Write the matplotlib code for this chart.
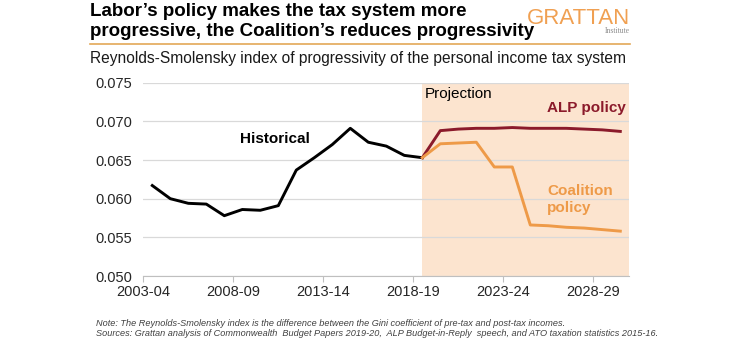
import matplotlib
matplotlib.use('Agg')
import matplotlib.pyplot as plt

plt.rcParams['font.family'] = ['Liberation Sans', 'DejaVu Sans']

W, H = 754, 341

years = ['2003-04', '2004-05', '2005-06', '2006-07', '2007-08', '2008-09', '2009-10',
         '2010-11', '2011-12', '2012-13', '2013-14', '2014-15', '2015-16', '2016-17',
         '2017-18', '2018-19', '2019-20', '2020-21', '2021-22', '2022-23', '2023-24',
         '2024-25', '2025-26', '2026-27', '2027-28', '2028-29', '2029-30']
historical = [0.0617, 0.0600, 0.0594, 0.0593, 0.0578, 0.0586, 0.0585, 0.0591,
              0.0637, 0.0653, 0.0670, 0.0691, 0.0673, 0.0668, 0.0656, 0.0653]
alp = [0.0653, 0.0688, 0.0690, 0.0691, 0.0691, 0.0692, 0.0691, 0.0691,
       0.0691, 0.0690, 0.0689, 0.0687]
coalition = [0.0653, 0.0671, 0.0672, 0.0673, 0.0641, 0.0641, 0.0566, 0.0565,
             0.0563, 0.0562, 0.0560, 0.0558]

n_hist = len(historical)
x_hist = list(range(n_hist))
x_proj = list(range(n_hist - 1, n_hist - 1 + len(alp)))

ALP_COL = '#8B1A2B'
COAL_COL = '#EE9A48'
SHADE = '#FCE4CF'
GRID = '#D9D9D9'


def fx(px):
    return px / W


def fy(py):
    return 1 - py / H


fig = plt.figure(figsize=(W / 100, H / 100), dpi=100)
ax = fig.add_axes([fx(143.3), fy(276), (629.3 - 143.3) / W, (276 - 82.7) / H])

ax.axvspan(x_proj[0], len(years) - 0.5, color=SHADE, lw=0, zorder=0.2)
ax.plot(x_hist, historical, color='black', lw=2.1, zorder=3)
ax.plot(x_proj, alp, color=ALP_COL, lw=2.1, zorder=3)
ax.plot(x_proj, coalition, color=COAL_COL, lw=2.1, zorder=3)

ax.set_xlim(-0.5, len(years) - 0.5)
ax.set_ylim(0.050, 0.075)
ax.set_yticks([0.050, 0.055, 0.060, 0.065, 0.070, 0.075])
ax.set_yticklabels(['%.3f' % v for v in ax.get_yticks()])
tick_pos = [i - 0.5 for i in range(0, len(years), 5)]
ax.set_xticks(tick_pos)
ax.set_xticklabels(years[0::5])

ax.set_axisbelow(True)
ax.grid(axis='y', color=GRID, lw=0.9)
for s in ['top', 'right', 'left']:
    ax.spines[s].set_visible(False)
ax.spines['bottom'].set_color('#BFBFBF')
ax.tick_params(axis='y', length=0, pad=8, labelsize=10.5, labelcolor='#262626')
ax.tick_params(axis='x', length=4, color='#BFBFBF', pad=2.5, labelsize=10.5, labelcolor='#262626')

# annotations
fig.text(fx(240), fy(139), 'Historical', fontsize=11, fontweight='bold', va='center', ha='left')
fig.text(fx(425), fy(94), 'Projection', fontsize=11, va='center', ha='left')
fig.text(fx(547), fy(108), 'ALP policy', fontsize=11, fontweight='bold', color=ALP_COL,
         va='center', ha='left')
fig.text(fx(547), fy(199.5), 'Coalition\npolicy', fontsize=11, fontweight='bold',
         color=COAL_COL, va='center', ha='left', linespacing=1.3)

# title block
fig.text(fx(90), fy(15.5), "Labor\u2019s policy makes the tax system more", fontsize=13.5,
         fontweight='bold', va='baseline', ha='left')
fig.text(fx(90), fy(36.5), "progressive, the Coalition\u2019s reduces progressivity", fontsize=13.5,
         fontweight='bold', va='baseline', ha='left')
fig.add_artist(plt.Line2D([fx(90), fx(630)], [fy(44), fy(44)], color='#E3A857', lw=1.2))
fig.text(fx(90), fy(62.5), 'Reynolds-Smolensky index of progressivity of the personal income tax system',
         fontsize=11.2, va='baseline', ha='left', color='#1a1a1a')

# logo
fig.text(fx(630), fy(23.5), 'GRATTAN', fontsize=16, color='#F0A052', va='baseline', ha='right')
fig.text(fx(630), fy(31), 'Institute', fontsize=5.5, color='#8c8c8c', va='center', ha='right',
         family=['Liberation Serif', 'DejaVu Serif'])

# footnote
fig.text(fx(96), fy(328.5),
         'Note: The Reynolds-Smolensky index is the difference between the Gini coefficient of pre-tax and post-tax incomes.\n'
         'Sources: Grattan analysis of Commonwealth  Budget Papers 2019-20,  ALP Budget-in-Reply  speech, and ATO taxation statistics 2015-16.',
         fontsize=6.6, style='italic', color='#404040', va='center', ha='left', linespacing=1.2)

fig.savefig('out.png', dpi=100)
